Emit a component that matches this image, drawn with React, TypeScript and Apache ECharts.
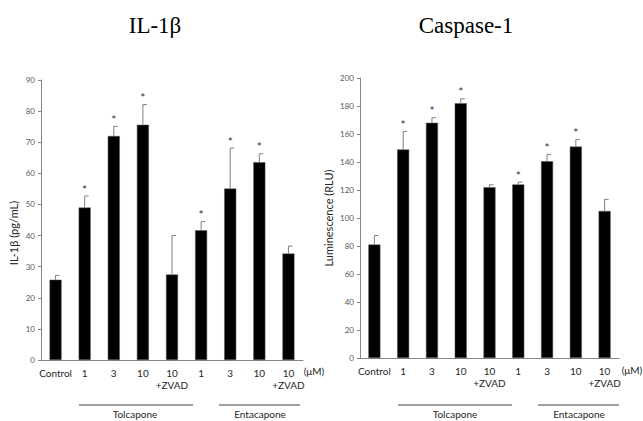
import React, { useEffect, useRef } from "react";
import * as echarts from "echarts";

const categories = ["Control", "1", "3", "10", "10\n+ZVAD", "1", "3", "10", "10\n+ZVAD"];

const il1bMean = [25.8, 49.0, 72.0, 75.6, 27.5, 41.7, 55.1, 63.6, 34.2];
const il1bSd = [1.4, 3.7, 3.1, 6.5, 12.5, 2.8, 13.0, 2.7, 2.4];
const il1bStar = [false, true, true, true, false, true, true, true, false];

const caspMean = [81, 149, 168, 182, 122, 124, 140.5, 151, 105];
const caspSd = [6.5, 12.8, 3.6, 3.1, 1.7, 1.6, 4.8, 5, 8.3];
const caspStar = [false, true, true, true, false, true, true, true, false];

const il1bTicks = { min: 0, max: 90, interval: 10 };
const caspTicks = { min: 0, max: 200, interval: 20 };

const groupLabels = ["Tolcapone", "Entacapone"];

const FONT = "Lato";

function errData(mean: number[], sd: number[], star: boolean[]) {
  return mean.map((m, i) => [i, m, m + sd[i], star[i] ? 1 : 0]);
}

function renderErr(params: any, api: any) {
  const i = api.value(0);
  const top = api.coord([i, api.value(1)]);
  const cap = api.coord([i, api.value(2)]);
  const children: any[] = [
    { type: "line", shape: { x1: top[0], y1: top[1], x2: cap[0], y2: cap[1] }, style: { stroke: "#7f7f7f", lineWidth: 1 } },
    { type: "line", shape: { x1: cap[0], y1: cap[1], x2: cap[0] + 4, y2: cap[1] }, style: { stroke: "#7f7f7f", lineWidth: 1 } },
  ];
  if (api.value(3) === 1) {
    children.push({
      type: "text",
      style: { text: "*", x: cap[0], y: cap[1] - 1, align: "center", verticalAlign: "bottom", fontSize: 12, fontFamily: FONT, fill: "#333" },
    });
  }
  return { type: "group", children };
}

export default function App() {
  const ref = useRef<HTMLDivElement>(null);
  useEffect(() => {
    if (!ref.current) return;
    const chart = echarts.init(ref.current, null, { renderer: "svg" });
    const grids = [
      { left: 41, top: 80, width: 262, height: 280 },
      { left: 360, top: 78, width: 259, height: 280 },
    ];
    const xAxisBase = (gi: number) => ({
      type: "category",
      gridIndex: gi,
      data: categories,
      axisLine: { lineStyle: { color: "#868686", width: 1 } },
      axisTick: { show: false },
      axisLabel: { color: "#262626", fontSize: 10, fontFamily: FONT, margin: 7, lineHeight: 12, interval: 0 },
    });
    const yAxisBase = (gi: number, t: any) => ({
      type: "value",
      gridIndex: gi,
      min: t.min,
      max: t.max,
      interval: t.interval,
      axisLine: { show: true, lineStyle: { color: "#868686", width: 1 } },
      axisTick: { show: true, length: 3, lineStyle: { color: "#868686" } },
      splitLine: { show: false },
      axisLabel: { color: "#595959", fontSize: 8, fontFamily: FONT, margin: 6 },
    });
    const barSeries = (gi: number, data: number[]) => ({
      type: "bar",
      xAxisIndex: gi,
      yAxisIndex: gi,
      data,
      barWidth: 12,
      itemStyle: { color: "#000", borderColor: "#555", borderWidth: 0.5 },
    });
    const errSeries = (gi: number, data: any[]) => ({
      type: "custom",
      xAxisIndex: gi,
      yAxisIndex: gi,
      data,
      renderItem: renderErr,
      z: 3,
    });
    const txt = (text: string, x: number, y: number, extra: any = {}) => ({
      type: "text",
      x,
      y,
      style: { text, fontSize: 10, fontFamily: FONT, fill: "#262626", align: "center", verticalAlign: "middle", ...extra },
    });
    const ln = (x1: number, x2: number, y: number) => ({
      type: "line",
      shape: { x1, y1: y, x2, y2: y },
      style: { stroke: "#404040", lineWidth: 1 },
    });
    chart.setOption({
      animation: false,
      grid: grids,
      xAxis: [xAxisBase(0), xAxisBase(1)],
      yAxis: [yAxisBase(0, il1bTicks), yAxisBase(1, caspTicks)],
      series: [
        barSeries(0, il1bMean),
        errSeries(0, errData(il1bMean, il1bSd, il1bStar)),
        barSeries(1, caspMean),
        errSeries(1, errData(caspMean, caspSd, caspStar)),
      ],
      graphic: [
        { type: "text", x: 155, y: 25, style: { text: "IL-1β", fontSize: 23, fontFamily: "Liberation Serif", fill: "#000", align: "center", verticalAlign: "middle" } },
        { type: "text", x: 466, y: 25, style: { text: "Caspase-1", fontSize: 23, fontFamily: "Liberation Serif", fill: "#000", align: "center", verticalAlign: "middle" } },
        { type: "text", x: 13, y: 233, rotation: Math.PI / 2, style: { text: "IL-1β (pg/mL)", fontSize: 11, fontFamily: FONT, fill: "#262626", align: "center", verticalAlign: "middle" } },
        { type: "text", x: 328, y: 218, rotation: Math.PI / 2, style: { text: "Luminescence (RLU)", fontSize: 11, fontFamily: FONT, fill: "#262626", align: "center", verticalAlign: "middle" } },
        txt("(μM)", 314, 371),
        txt("(μM)", 632, 370),
        ln(79, 193, 405),
        ln(219, 300, 405),
        ln(398, 512, 405),
        ln(538, 619, 405),
        txt(groupLabels[0], 135, 414),
        txt(groupLabels[1], 260, 414),
        txt(groupLabels[0], 455, 414),
        txt(groupLabels[1], 579, 414),
      ],
    });
    return () => chart.dispose();
  }, []);
  return <div ref={ref} style={{ width: 643, height: 421, position: "absolute", left: 0, top: 0, background: "#fff" }} />;
}
